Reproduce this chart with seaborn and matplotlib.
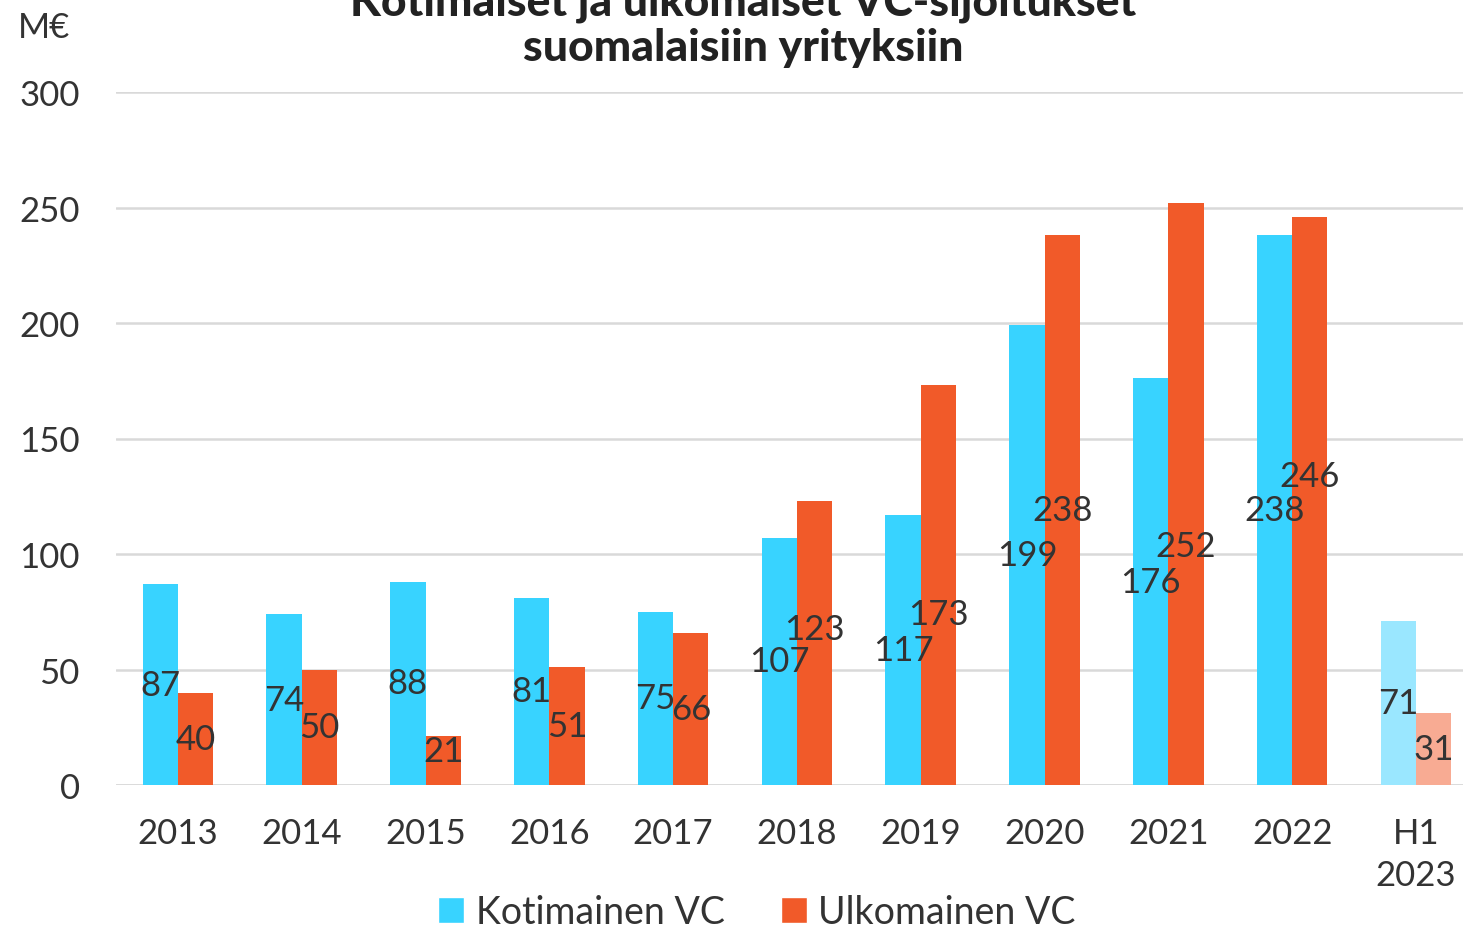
import pandas as pd
import matplotlib.pyplot as plt
import seaborn as sns
from matplotlib.patches import Patch

# Data
years = ["2013", "2014", "2015", "2016", "2017", "2018", "2019",
         "2020", "2021", "2022", "H1\n2023"]
kotimainen = [87, 74, 88, 81, 75, 107, 117, 199, 176, 238, 71]
ulkomainen = [40, 50, 21, 51, 66, 123, 173, 238, 252, 246, 31]
series = ["Kotimainen VC", "Ulkomainen VC"]
colors = ["#38D3FF", "#F15A29"]
light_colors = ["#9AE7FF", "#F8AB93"]

# some labels in the original were nudged by hand (pixels, + = up)
label_shift = {1: {2: 10, 5: 14, 6: -29, 8: -52, 9: 25}}

df = pd.DataFrame({
    "year": years * 2,
    "value": kotimainen + ulkomainen,
    "series": [series[0]] * len(years) + [series[1]] * len(years),
})

sns.set_style("white")
plt.rcParams["font.family"] = ["Lato", "DejaVu Sans"]
text_color = "#333333"

fig = plt.figure(figsize=(14.63, 9.29), dpi=100)
ax = fig.add_axes([116 / 1463, 143 / 929, 1347 / 1463, 693 / 929])

sns.barplot(
    data=df,
    x="year",
    y="value",
    hue="series",
    palette=colors,
    width=0.57,
    saturation=1,
    linewidth=0,
    legend=False,
    ax=ax,
)

# lighter colours for the half-year bars + value labels
for i, (cont, light) in enumerate(zip(ax.containers, light_colors)):
    cont.patches[-1].set_facecolor(light)
    labels = ax.bar_label(cont, fmt="%d", label_type="center", fontsize=25,
                          color=text_color)
    for j, dy in label_shift.get(i, {}).items():
        labels[j].xyann = (0, dy * 72 / 100)

ax.set_ylim(0, 300)
ax.set_xlim(-0.5, 10.38)
ax.set_yticks(range(0, 301, 50))
ax.yaxis.grid(True, color="#D9D9D9", linewidth=1.8)
ax.set_axisbelow(True)
sns.despine(ax=ax, left=True, bottom=True, top=True, right=True)
ax.axhline(0, color="#D9D9D9", linewidth=1.8, zorder=0.5)
ax.tick_params(axis="both", length=0, labelsize=25, labelcolor=text_color)
ax.tick_params(axis="y", pad=26)
ax.tick_params(axis="x", pad=23)
for lab in ax.get_xticklabels():
    lab.set_linespacing(1.4)
ax.set_xlabel("")
ax.set_ylabel("")

fig.text(18 / 1463, 1 - 28 / 929, "M€", fontsize=25, color=text_color,
         ha="left", va="center")

fig.text(0.508, 1 - 25 / 929,
         "Kotimaiset ja ulkomaiset VC-sijoitukset\nsuomalaisiin yrityksiin",
         ha="center", va="center", fontsize=32, fontweight="black",
         color="#222222", linespacing=1.15)

handles = [Patch(facecolor=c, label=s) for c, s in zip(colors, series)]
fig.legend(handles=handles, loc="center", ncol=2,
           bbox_to_anchor=(757 / 1463, 1 - 913 / 929), frameon=False,
           fontsize=27, handlelength=0.7, handleheight=0.7,
           handletextpad=0.3, columnspacing=1.5, labelcolor=text_color)

fig.savefig("out.png", dpi=100)
